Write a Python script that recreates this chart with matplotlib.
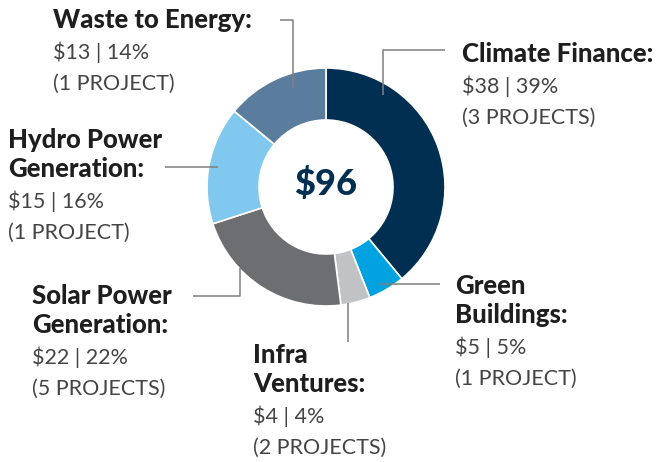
import matplotlib.pyplot as plt

labels = ["Climate Finance:", "Green\nBuildings:", "Infra\nVentures:",
          "Solar Power\nGeneration:", "Hydro Power\nGeneration:", "Waste to Energy:"]
amounts = [38, 5, 4, 22, 15, 13]
shares = [39, 5, 4, 22, 16, 14]
projects = ["(3 PROJECTS)", "(1 PROJECT)", "(2 PROJECTS)",
            "(5 PROJECTS)", "(1 PROJECT)", "(1 PROJECT)"]
total = "$96"
colors = ["#002f52", "#00a3e0", "#c1c2c4", "#6d6e71", "#80c8ee", "#5a7d9e"]

# label anchor (left x, title baseline y) in pixels
anchors = [(462, 62), (455, 294), (253, 363), (32, 304), (8, 148), (53, 28)]
# leader lines in pixels
leaders = [
    [(383, 95), (383, 50), (445, 50)],
    [(380, 284), (440, 284)],
    [(348, 303), (348, 342)],
    [(240, 268), (240, 296), (193, 296)],
    [(218, 167), (165, 167)],
    [(293, 88), (293, 20), (280, 20)],
]

fig = plt.figure(figsize=(6.71, 4.62), dpi=100)
ax = fig.add_axes([0, 0, 1, 1])

# y axis runs downward, so start at 270 and go counterclockwise in data terms
ax.pie(shares, colors=colors, startangle=270, counterclock=True,
       center=(326, 187), radius=119, frame=True,
       wedgeprops=dict(width=52, edgecolor="white", linewidth=1.2))
ax.set_xlim(0, 671)
ax.set_ylim(462, 0)
ax.set_aspect("equal")
ax.axis("off")

ax.text(326, 184, total, ha="center", va="center", fontsize=26,
        fontweight="black", color="#002f52", family="Lato")

for pts in leaders:
    xs = [p[0] for p in pts]
    ys = [p[1] for p in pts]
    ax.plot(xs, ys, color="#7f7f7f", lw=1.1, solid_capstyle="butt")

for lab, amt, sh, pr, (x, y) in zip(labels, amounts, shares, projects, anchors):
    lines = lab.split("\n")
    for i, ln in enumerate(lines):
        ax.text(x, y + i * 29, ln, ha="left", va="baseline", fontsize=18.5,
                fontweight="black", color="#1e1e1e", family="Lato")
    yy = y + (len(lines) - 1) * 29 + 31
    ax.text(x, yy, f"${amt} | {sh}%", ha="left", va="baseline", fontsize=15.5,
            color="#444444", family="Lato")
    ax.text(x, yy + 31, pr, ha="left", va="baseline", fontsize=15.5,
            color="#444444", family="Lato")

fig.savefig("out.png", dpi=100)
